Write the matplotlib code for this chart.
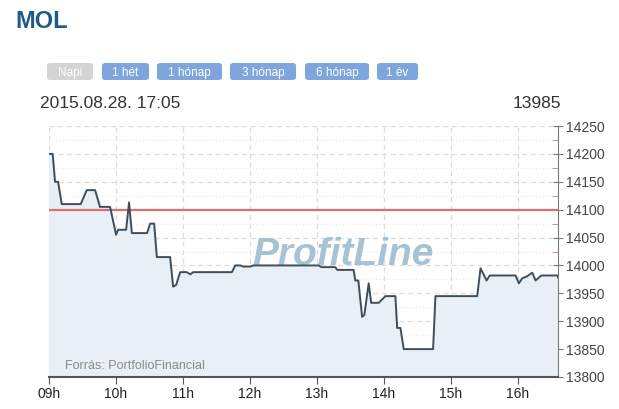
import matplotlib.pyplot as plt
from matplotlib.patches import FancyBboxPatch
from matplotlib.ticker import MultipleLocator

# minutes since 09:00 and price
minutes = [0, 3.3, 5.4, 8.1, 11.4, 28.4, 33.8, 41.3, 45.7, 54.7, 60.1, 61.9, 69.1, 71.7,
           74.2, 87.9, 90.6, 94.2, 96.6, 108.5, 111.2, 113.9, 117.5, 123.5, 126.5, 129.2,
           163.9, 166.8, 171.3, 174.0, 180.3, 183.0, 241.5, 244.0, 256.5, 258.3, 272.9,
           274.4, 277.1, 280.5, 282.5, 286.4, 288.6, 295.4, 301.4, 310.3, 311.9, 314.8,
           317.8, 344.1, 346.2, 383.6, 386.6, 392.0, 394.9, 418.0, 420.9, 424.0, 427.8,
           433.0, 435.9, 441.0, 455.4, 456.5]
prices = [14200, 14200, 14150, 14150, 14110, 14110, 14135, 14135, 14105, 14105, 14055,
          14064, 14064, 14113, 14058, 14058, 14075, 14075, 14015, 14015, 13962, 13965,
          13988, 13988, 13984, 13988, 13988, 14000, 14000, 13998, 13998, 14000, 14000,
          13997, 13997, 13992, 13992, 13973, 13973, 13908, 13911, 13968, 13933, 13933,
          13945, 13945, 13888, 13888, 13850, 13850, 13945, 13945, 13995, 13973, 13982,
          13982, 13968, 13977, 13980, 13987, 13973, 13982, 13982, 13977]
prev_close = 14100
hour_labels = ["09h", "10h", "11h", "12h", "13h", "14h", "15h", "16h"]
buttons = ["Napi", "1 hét", "1 hónap", "3 hónap", "6 hónap", "1 év"]
stamp = "2015.08.28. 17:05"
last_price = "13985"

W, H = 619, 409
fig = plt.figure(figsize=(W / 100, H / 100), dpi=100)
plt.rcParams['font.family'] = ['Liberation Sans', 'DejaVu Sans']

ax = fig.add_axes([49 / W, 32 / H, 509 / W, 251 / H])
ax.set_xlim(0, 456)
ax.set_ylim(13800, 14250)

ax.fill_between(minutes, prices, 13800, color="#e9eff6", zorder=1)
ax.plot(minutes, prices, color="#3e4f5c", lw=1.4, zorder=4)
ax.axhline(prev_close, color="#d9706e", lw=1.6, zorder=3)

ax.text(0.578, 0.486, "ProfitLine", transform=ax.transAxes, ha="center", va="center",
        fontsize=28, fontweight="bold", fontstyle="italic", color="#a7c2d5", zorder=3)
ax.text(14, 13814, "Forrás: PortfolioFinancial", fontsize=9, color="#8a8a8a", zorder=5)

ax.set_xticks([i * 60 for i in range(len(hour_labels))])
ax.set_xticklabels(hour_labels)
ax.yaxis.set_major_locator(MultipleLocator(50))
ax.yaxis.set_minor_locator(MultipleLocator(25))
ax.yaxis.tick_right()
ax.grid(True, which="major", color="#dcdcdc", ls=(0, (4, 3)), lw=0.9, zorder=0)
ax.grid(True, which="minor", axis="y", color="#e8e8e8", ls=(0, (1, 2)), lw=0.8, zorder=0)
ax.set_axisbelow(True)

for s in ["top", "left"]:
    ax.spines[s].set_visible(False)
ax.spines["right"].set_color("#7a7a7a")
ax.spines["bottom"].set_color("#555555")
ax.spines["bottom"].set_linewidth(1.5)
ax.tick_params(axis="y", which="major", direction="inout", length=7, colors="#7a7a7a",
               labelcolor="#444444", labelsize=10, pad=2)
ax.tick_params(axis="y", which="minor", direction="in", length=4, color="#d08080")
ax.tick_params(axis="x", direction="out", length=5, colors="#555555",
               labelcolor="#222222", labelsize=10, pad=2)

fig.text(15 / W, 1 - 21 / H, "MOL", fontsize=17, fontweight="bold", color="#1d5b8c",
         va="center", ha="left")

btn_x = [47, 102, 157, 230, 305, 377]
btn_w = [46, 47, 65, 66, 64, 41]
for i, b in enumerate(buttons):
    x0 = btn_x[i] / W
    y0 = 1 - 80 / H
    w = btn_w[i] / W
    h = 17 / H
    col = "#d4d4d4" if i == 0 else "#7ea6dc"
    fig.patches.append(FancyBboxPatch((x0, y0), w, h, boxstyle="round,pad=0,rounding_size=0.006",
                                      transform=fig.transFigure, fc=col, ec="none"))
    fig.text(x0 + w / 2, y0 + h / 2, b, fontsize=8.5, color="white", ha="center",
             va="center_baseline")

fig.text(40 / W, 1 - 103 / H, stamp, fontsize=12.5, color="#333333", va="center", ha="left")
fig.text(561 / W, 1 - 103 / H, last_price, fontsize=12.5, color="#333333", va="center",
         ha="right")

fig.savefig("out.png", dpi=100)
